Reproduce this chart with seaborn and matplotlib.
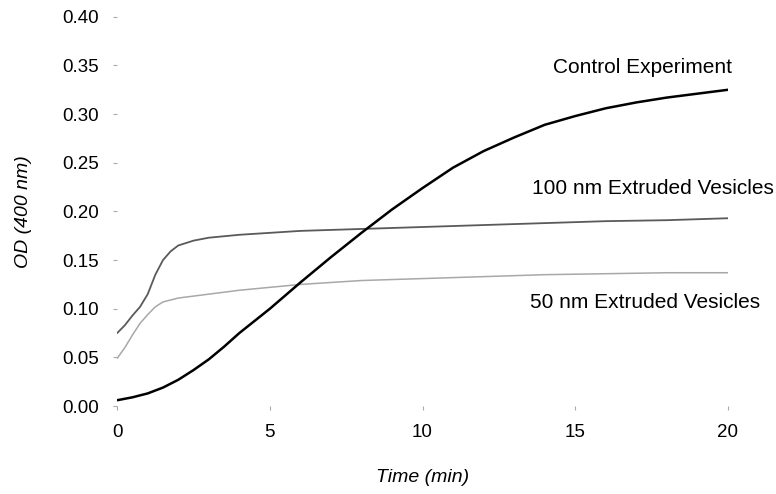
import pandas as pd
import seaborn as sns
import matplotlib.pyplot as plt

# Données
temps_controle = [0, 0.5, 1, 1.5, 2, 2.5, 3, 3.5, 4, 5, 6, 7, 8, 9, 10, 11, 12, 13, 14, 15, 16, 17, 18, 19, 20]
od_controle = [0.006, 0.009, 0.013, 0.019, 0.027, 0.037, 0.048, 0.061, 0.075, 0.100, 0.127, 0.153,
               0.178, 0.202, 0.224, 0.245, 0.262, 0.276, 0.289, 0.298, 0.306, 0.312, 0.317, 0.321, 0.325]

temps_vesicules = [0, 0.25, 0.5, 0.75, 1.0, 1.25, 1.5, 1.75, 2.0, 2.5, 3, 4, 5, 6, 8, 10, 12, 14, 16, 18, 20]
od_100nm = [0.075, 0.083, 0.093, 0.102, 0.115, 0.135, 0.150, 0.159, 0.165, 0.170, 0.173, 0.176,
            0.178, 0.180, 0.182, 0.184, 0.186, 0.188, 0.190, 0.191, 0.193]
od_50nm = [0.049, 0.060, 0.073, 0.085, 0.094, 0.102, 0.107, 0.109, 0.111, 0.113, 0.115, 0.119,
           0.122, 0.125, 0.129, 0.131, 0.133, 0.135, 0.136, 0.137, 0.137]

etiquettes = ['Control Experiment', '100 nm Extruded Vesicles', '50 nm Extruded Vesicles']

df_controle = pd.DataFrame({'temps': temps_controle, 'od': od_controle})
df_100 = pd.DataFrame({'temps': temps_vesicules, 'od': od_100nm})
df_50 = pd.DataFrame({'temps': temps_vesicules, 'od': od_50nm})

sns.set_style("white", {'xtick.bottom': True, 'ytick.left': True,
                        'text.color': 'black', 'axes.labelcolor': 'black',
                        'xtick.color': 'black', 'ytick.color': 'black'})
plt.rcParams['font.family'] = ['Liberation Sans', 'DejaVu Sans']

fig = plt.figure(figsize=(7.76, 4.94), dpi=100)
ax = fig.add_axes([0.151, 0.178, 0.787, 0.788])

sns.lineplot(data=df_50, x='temps', y='od', color='#a8a8a8', linewidth=1.1, ax=ax)
sns.lineplot(data=df_100, x='temps', y='od', color='#5a5a5a', linewidth=1.3, ax=ax)
sns.lineplot(data=df_controle, x='temps', y='od', color='black', linewidth=1.8, ax=ax)

# Étiquettes des courbes
ax.text(17.2, 0.348, etiquettes[0], ha='center', va='center', fontsize=15, color='black', clip_on=False)
ax.text(17.55, 0.224, etiquettes[1], ha='center', va='center', fontsize=15, color='black', clip_on=False)
ax.text(17.3, 0.106, etiquettes[2], ha='center', va='center', fontsize=15, color='black', clip_on=False)

ax.set_xlim(0, 20)
ax.set_ylim(0, 0.40)
ax.set_xticks([0, 5, 10, 15, 20])
ax.set_yticks([0.0, 0.05, 0.10, 0.15, 0.20, 0.25, 0.30, 0.35, 0.40])
ax.set_yticklabels([f'{v:.2f}' for v in ax.get_yticks()])
ax.tick_params(axis='both', length=3, width=0.8, color='#aaaaaa', labelcolor='black', labelsize=13.5)
ax.tick_params(axis='y', pad=10)
ax.tick_params(axis='x', pad=10)

for spine in ax.spines.values():
    spine.set_visible(False)

ax.set_xlabel('Time (min)', fontsize=14, style='italic', color='black', labelpad=20)
ax.set_ylabel('OD (400 nm)', fontsize=14, style='italic', color='black', labelpad=22)

plt.savefig('out.png', dpi=100)
